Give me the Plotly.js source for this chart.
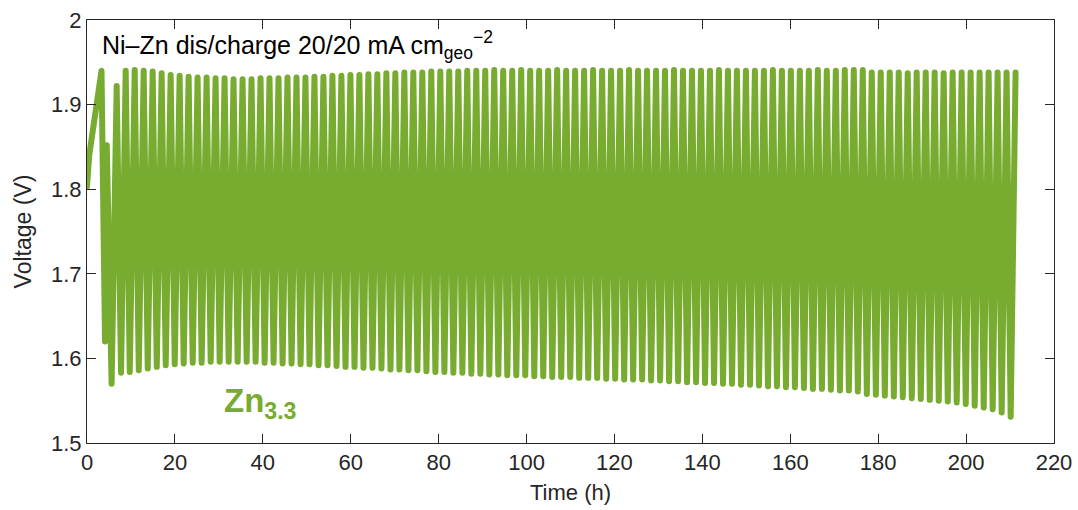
<!DOCTYPE html>
<html>
<head>
<meta charset="utf-8">
<script src="https://cdn.plot.ly/plotly-3.0.1.min.js"></script>
<style>
  html, body { margin: 0; padding: 0; background: #ffffff; }
  #chart { width: 1078px; height: 510px; }
  path.js-line { stroke-linejoin: round !important; stroke-linecap: round !important; }
</style>
</head>
<body>
<div id="chart"></div>
<script>
// Initial (formation) part of the curve
const initTime = [0, 0.5, 3.3, 4.1, 4.5, 5.6, 6.75, 7.75];
const initV    = [1.803, 1.840, 1.940, 1.620, 1.852, 1.570, 1.922, 1.583];

// End-of-charge points (h, V)
const peakTime = [8.80,10.85,12.89,14.94,16.98,19.03,21.07,23.12,25.16,27.21,
  29.25,31.30,33.34,35.39,37.43,39.48,41.52,43.57,45.61,47.66,
  49.70,51.75,53.79,55.84,57.88,59.93,61.97,64.02,66.06,68.11,
  70.15,72.20,74.24,76.29,78.33,80.38,82.42,84.47,86.51,88.56,
  90.60,92.65,94.69,96.74,98.78,100.83,102.87,104.92,106.96,109.01,
  111.05,113.10,115.14,117.19,119.23,121.28,123.32,125.37,127.41,129.46,
  131.50,133.55,135.59,137.64,139.68,141.73,143.77,145.82,147.86,149.91,
  151.95,154.00,156.04,158.09,160.13,162.18,164.22,166.27,168.31,170.36,
  172.40,174.45,176.49,178.54,180.58,182.63,184.67,186.72,188.76,190.81,
  192.85,194.90,196.94,198.99,201.03,203.08,205.12,207.17,209.21,211.26];
const peakV = [1.940,1.941,1.940,1.939,1.937,1.935,1.934,1.933,1.932,1.932,
  1.931,1.931,1.930,1.930,1.930,1.931,1.931,1.931,1.932,1.932,
  1.932,1.933,1.933,1.934,1.934,1.935,1.935,1.936,1.936,1.937,
  1.937,1.938,1.938,1.938,1.939,1.939,1.939,1.939,1.940,1.940,
  1.940,1.941,1.940,1.940,1.941,1.940,1.940,1.940,1.941,1.940,
  1.940,1.940,1.941,1.940,1.940,1.940,1.941,1.940,1.940,1.940,
  1.940,1.941,1.940,1.940,1.940,1.940,1.941,1.940,1.940,1.940,
  1.940,1.940,1.941,1.940,1.940,1.940,1.940,1.941,1.940,1.940,
  1.941,1.941,1.941,1.938,1.938,1.938,1.938,1.937,1.938,1.938,
  1.938,1.937,1.938,1.938,1.938,1.938,1.938,1.938,1.938,1.938];

// End-of-discharge points (h, V)
const troughTime = [9.73,11.78,13.82,15.87,17.91,19.96,22.00,24.05,26.09,28.14,
  30.18,32.23,34.27,36.32,38.36,40.41,42.45,44.50,46.54,48.59,
  50.63,52.68,54.72,56.77,58.81,60.86,62.90,64.95,66.99,69.04,
  71.08,73.13,75.17,77.22,79.26,81.31,83.35,85.40,87.44,89.49,
  91.53,93.58,95.62,97.67,99.71,101.76,103.80,105.85,107.89,109.94,
  111.98,114.03,116.07,118.12,120.16,122.21,124.25,126.30,128.34,130.39,
  132.43,134.48,136.52,138.57,140.61,142.66,144.70,146.75,148.79,150.84,
  152.88,154.93,156.97,159.02,161.06,163.11,165.15,167.20,169.24,171.29,
  173.33,175.38,177.42,179.47,181.51,183.56,185.60,187.65,189.69,191.74,
  193.78,195.83,197.87,199.92,201.96,204.01,206.05,208.10,210.14];
const troughV = [1.584,1.586,1.588,1.590,1.592,1.593,1.594,1.595,1.595,1.596,
  1.596,1.596,1.596,1.596,1.596,1.595,1.595,1.594,1.594,1.593,
  1.593,1.592,1.592,1.591,1.590,1.590,1.589,1.589,1.588,1.587,
  1.587,1.586,1.586,1.585,1.584,1.584,1.583,1.583,1.582,1.582,
  1.581,1.581,1.580,1.580,1.580,1.579,1.579,1.578,1.578,1.578,
  1.577,1.577,1.577,1.576,1.576,1.575,1.575,1.575,1.574,1.574,
  1.573,1.573,1.572,1.572,1.571,1.571,1.570,1.570,1.569,1.569,
  1.568,1.567,1.567,1.566,1.566,1.565,1.564,1.564,1.563,1.562,
  1.562,1.561,1.558,1.557,1.556,1.555,1.554,1.553,1.552,1.551,
  1.550,1.549,1.548,1.546,1.544,1.542,1.540,1.536,1.531];

const xTicks = [0,20,40,60,80,100,120,140,160,180,200,220];
const yTicks = [1.5,1.6,1.7,1.8,1.9,2.0];
const yTickText = ['1.5','1.6','1.7','1.8','1.9','2'];

// Assemble the polyline: initial part, then alternating charge end / discharge end
const xs = initTime.slice();
const ys = initV.slice();
for (let k = 0; k < peakTime.length; k++) {
  xs.push(peakTime[k]); ys.push(peakV[k]);
  if (k < troughTime.length) { xs.push(troughTime[k]); ys.push(troughV[k]); }
}

const green = '#77AC30';
const axisCol = '#262626';
const fontFam = 'Liberation Sans, Arial, Helvetica, sans-serif';

const trace = {
  x: xs, y: ys, type: 'scatter', mode: 'lines',
  line: { color: green, width: 6, shape: 'linear' },
  hoverinfo: 'skip', showlegend: false
};

const layout = {
  width: 1078, height: 510,
  margin: { l: 87, r: 24, t: 20, b: 67 },
  paper_bgcolor: '#ffffff', plot_bgcolor: '#ffffff',
  font: { family: fontFam, color: axisCol, size: 22 },
  xaxis: {
    range: [0, 220], tickvals: xTicks, ticktext: xTicks.map(String),
    ticks: 'inside', ticklen: 9, tickwidth: 1, tickcolor: axisCol,
    showline: true, linecolor: axisCol, linewidth: 1, mirror: 'ticks',
    showgrid: false, zeroline: false,
    tickfont: { family: fontFam, size: 22, color: axisCol },
    title: { text: 'Time (h)', font: { family: fontFam, size: 22, color: axisCol }, standoff: 10 }
  },
  yaxis: {
    range: [1.5, 2.0], tickvals: yTicks, ticktext: yTickText,
    ticks: 'inside', ticklen: 9, tickwidth: 1, tickcolor: axisCol,
    showline: true, linecolor: axisCol, linewidth: 1, mirror: 'ticks',
    showgrid: false, zeroline: false,
    tickfont: { family: fontFam, size: 22, color: axisCol },
    title: { text: 'Voltage (V)', font: { family: fontFam, size: 23, color: axisCol }, standoff: 12 }
  },
  annotations: [
    {
      xref: 'paper', yref: 'paper', x: 0.0134, y: 0.94, xanchor: 'left', yanchor: 'middle',
      text: 'Ni–Zn dis/charge 20/20 mA cm<sub>geo</sub><sup>−2</sup>',
      showarrow: false, font: { family: fontFam, size: 25, color: '#000000' }
    },
    {
      xref: 'paper', yref: 'paper', x: 0.1396, y: 0.095, xanchor: 'left', yanchor: 'middle',
      text: '<b>Zn<sub>3.3</sub></b>',
      showarrow: false, font: { family: fontFam, size: 33, color: green }
    }
  ]
};

Plotly.newPlot('chart', [trace], layout, { staticPlot: true, displayModeBar: false });
</script>
</body>
</html>
